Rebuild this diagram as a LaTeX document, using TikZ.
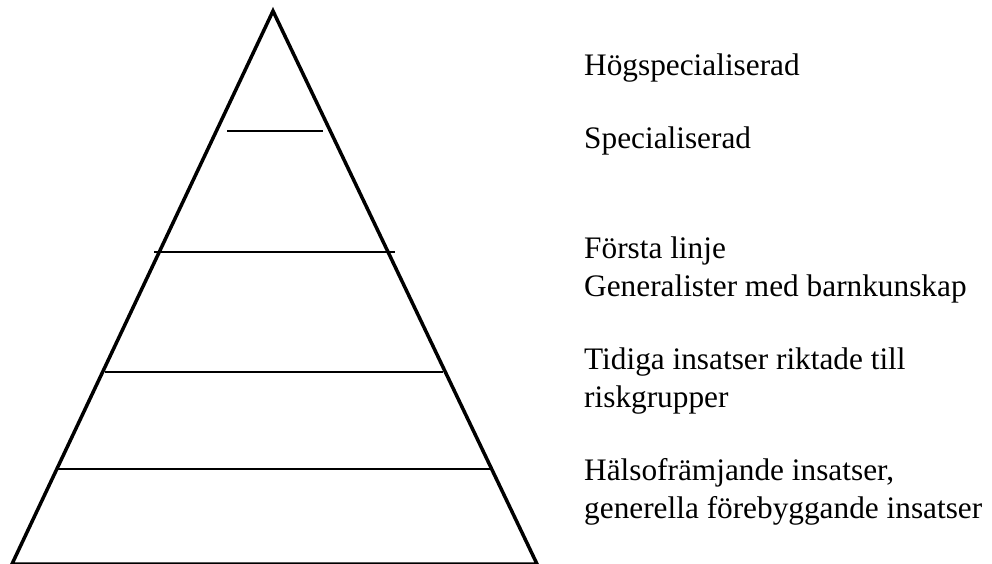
\documentclass[tikz,border=0pt]{standalone}
\usepackage{fontspec}
\setmainfont{Liberation Serif}
\begin{document}
\begin{tikzpicture}[x=1pt,y=-1pt,
  edge/.style={line width=3.5pt,line join=miter},
  tier/.style={line width=2pt},
  lbl/.style={anchor=base west,inner sep=0pt,font=\fontsize{31.3}{38}\selectfont}]
\useasboundingbox (0,0) rectangle (992,563);
\begin{scope}
\clip (0,0) rectangle (992,563);
\coordinate (apex) at (273,11);
\coordinate (bl) at (12,564);
\coordinate (br) at (537,564);
\draw[edge] (bl) -- (apex) -- (br) -- cycle;
\end{scope}
\draw[tier] (227,131) -- (323,131);
\draw[tier] (154,252) -- (395,252);
\draw[tier] (105,372) -- (443,372);
\draw[tier] (57,469) -- (492,469);
\node[lbl] (t1) at (584,75) {Högspecialiserad};
\node[lbl] (t2) at (584,148) {Specialiserad};
\node[lbl] (t3a) at (584,258) {Första linje};
\node[lbl] (t3b) at (584,296) {Generalister med barnkunskap};
\node[lbl] (t4a) at (584,369) {Tidiga insatser riktade till};
\node[lbl] (t4b) at (584,407) {riskgrupper};
\node[lbl] (t5a) at (584,480) {Hälsofrämjande insatser,};
\node[lbl] (t5b) at (584,518) {generella förebyggande insatser};
\end{tikzpicture}
\end{document}
